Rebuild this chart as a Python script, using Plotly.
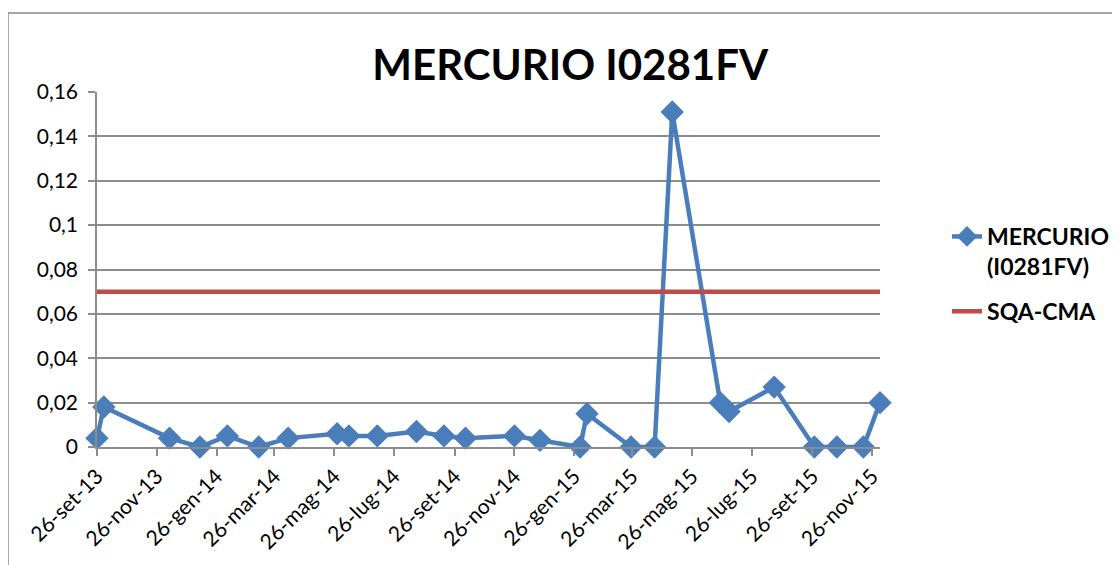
import plotly.graph_objects as go


# sampling dates and measured values (mg/l)
DATES = [
    "2013-09-26", "2013-10-03", "2013-12-09", "2014-01-09", "2014-02-06",
    "2014-03-10", "2014-04-09", "2014-05-29", "2014-06-10", "2014-07-09",
    "2014-08-18", "2014-09-15", "2014-10-07", "2014-11-26", "2014-12-22",
    "2015-02-01", "2015-02-08", "2015-03-25", "2015-04-18", "2015-05-06",
    "2015-06-24", "2015-07-03", "2015-08-18", "2015-09-28", "2015-10-21",
    "2015-11-17", "2015-12-04",
]
MERCURIO = [
    0.004, 0.018, 0.004, 0.0, 0.005,
    0.0, 0.004, 0.006, 0.005, 0.005,
    0.007, 0.005, 0.004, 0.005, 0.003,
    0.0, 0.015, 0.0, 0.0, 0.151,
    0.020, 0.016, 0.027, 0.0, 0.0,
    0.0, 0.020,
]
SQA_CMA = [0.07] * len(DATES)

TICK_DATES = [
    "2013-09-26", "2013-11-26", "2014-01-26", "2014-03-26", "2014-05-26",
    "2014-07-26", "2014-09-26", "2014-11-26", "2015-01-26", "2015-03-26",
    "2015-05-26", "2015-07-26", "2015-09-26", "2015-11-26",
]
TICK_LABELS = [
    "26-set-13", "26-nov-13", "26-gen-14", "26-mar-14", "26-mag-14",
    "26-lug-14", "26-set-14", "26-nov-14", "26-gen-15", "26-mar-15",
    "26-mag-15", "26-lug-15", "26-set-15", "26-nov-15",
]

BLUE = "#4A7EBB"
RED = "#BE4B48"
GRID = "#8C8C8C"
FONT = "Lato, Open Sans, sans-serif"

fig = go.Figure()

fig.add_trace(
    go.Scatter(
        x=DATES,
        y=MERCURIO,
        name="MERCURIO<br>(I0281FV)",
        legendgroup="hg",
        mode="lines+markers",
        line={"color": BLUE, "width": 4.5},
        marker={"symbol": "diamond", "size": 18, "color": BLUE},
        cliponaxis=False,
    )
)

fig.add_trace(
    go.Scatter(
        x=DATES,
        y=SQA_CMA,
        name="SQA-CMA",
        legendgroup="sqa",
        mode="lines",
        line={"color": RED, "width": 4.5},
    )
)

fig.update_layout(
    width=1120,
    height=565,
    template="none",
    separators=",.",
    paper_bgcolor="white",
    plot_bgcolor="white",
    margin={"l": 89, "r": 248, "t": 84, "b": 126},
    font={"family": FONT, "color": "black", "size": 20},
    title={
        "text": "<b>MERCURIO I0281FV</b>",
        "font": {"size": 42, "color": "black", "family": FONT},
        "x": 0.502,
        "xanchor": "center",
        "xref": "container",
        "y": 0.899,
        "yanchor": "middle",
        "yref": "container",
    },
    legend={
        "x": 1.0856,
        "xanchor": "left",
        "y": 0.6535,
        "yanchor": "top",
        "valign": "top",
        "traceorder": "grouped",
        "tracegroupgap": 12,
        "font": {"size": 23, "weight": "bold", "color": "black"},
        "bgcolor": "rgba(0,0,0,0)",
    },
    shapes=[
        {
            "type": "rect",
            "xref": "paper",
            "yref": "paper",
            "x0": -0.1137,
            "x1": 1.45,
            "y0": -0.5,
            "y1": 1.2225,
            "line": {"color": "#8A8A8A", "width": 1.5},
        }
    ],
)

fig.update_xaxes(
    type="date",
    range=["2013-09-26", "2015-12-04"],
    tickvals=TICK_DATES,
    ticktext=TICK_LABELS,
    tickangle=-45,
    showgrid=False,
    zeroline=False,
    showline=True,
    linecolor=GRID,
    linewidth=1.5,
    ticks="outside",
    ticklen=7,
    tickwidth=1.5,
    tickcolor=GRID,
    tickfont={"size": 21, "color": "black"},
)

fig.update_yaxes(
    range=[0, 0.16],
    dtick=0.02,
    tick0=0,
    showgrid=True,
    gridcolor=GRID,
    gridwidth=1.5,
    zeroline=False,
    showline=True,
    linecolor=GRID,
    linewidth=1.5,
    ticks="outside",
    ticklen=7,
    tickwidth=1.5,
    tickcolor=GRID,
    ticklabelstandoff=6,
    tickfont={"size": 21, "color": "black"},
)

fig.write_html("out.html")
